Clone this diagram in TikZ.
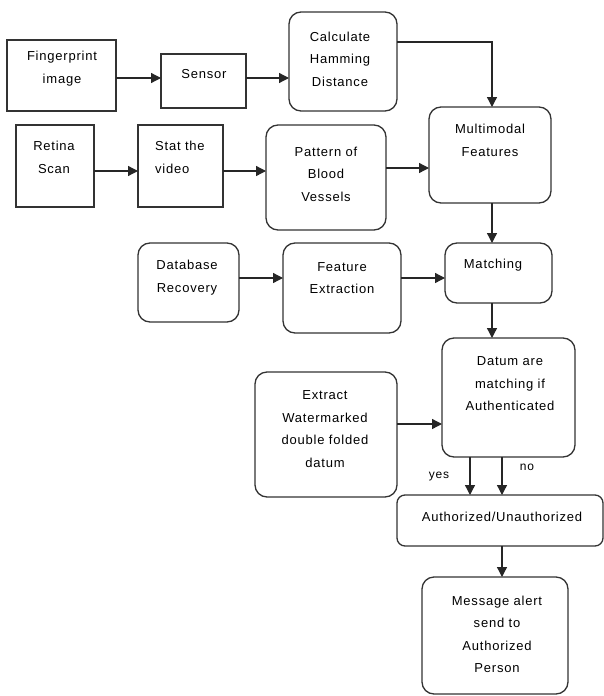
\documentclass[tikz,border=0pt]{standalone}
\usepackage{fontspec}
\setmainfont{Liberation Sans}[LetterSpace=6]
\usetikzlibrary{arrows.meta}
\begin{document}
\begin{tikzpicture}[x=1pt,y=-1pt,
  sq/.style={draw=black!80, line width=1.3pt, inner sep=0pt, outer sep=0pt},
  rd/.style={sq, rounded corners=12pt},
  txt/.style={align=center, inner sep=0pt, font=\fontsize{13}{22.5}\selectfont},
  arr/.style={draw=black!85, line width=1.3pt, -{Triangle[length=10pt,width=10pt]}},
  lab/.style={inner sep=0pt, font=\fontsize{12}{13}\selectfont}]
\useasboundingbox (0,0) rectangle (604,696);
% boxes
\node[sq, minimum width=109, minimum height=71] (fp) at (61.5,75.5) {};
\node[sq, minimum width=85, minimum height=54] (sensor) at (203.5,81) {};
\node[rd, minimum width=108, minimum height=99] (calc) at (343,61.5) {};
\node[sq, minimum width=78, minimum height=82] (retina) at (55,166) {};
\node[sq, minimum width=85, minimum height=82] (stat) at (180.5,166) {};
\node[rd, minimum width=120, minimum height=105] (pattern) at (326,177.5) {};
\node[rd, minimum width=122, minimum height=96] (multi) at (490,155) {};
\node[rd, minimum width=101, minimum height=79] (db) at (188.5,282.5) {};
\node[rd, minimum width=118, minimum height=90] (fe) at (342,288) {};
\node[rd, minimum width=107, minimum height=60] (match) at (498.5,273) {};
\node[rd, minimum width=133, minimum height=119] (datum) at (508.5,397.5) {};
\node[rd, minimum width=142, minimum height=125] (extract) at (326,434.5) {};
\node[rd, rounded corners=8pt, minimum width=206, minimum height=51] (auth) at (500,520.5) {};
\node[rd, minimum width=146, minimum height=117] (msg) at (495,635.5) {};
% texts
\node[txt] (tfp) at (62,68.5) {Fingerprint\\image};
\node[txt] (tsensor) at (204,74) {Sensor};
\node[txt] (tcalc) at (340,59) {Calculate\\Hamming\\Distance};
\node[txt] (tretina) at (54,157.5) {Retina\\Scan};
\node[txt, align=left, anchor=west] (tstat) at (155,157.5) {Stat the\\video};
\node[txt] (tpattern) at (326,174) {Pattern of\\Blood\\Vessels};
\node[txt] (tmulti) at (490,140.5) {Multimodal\\Features};
\node[txt] (tdb) at (187,277.5) {Database\\Recovery};
\node[txt] (tfe) at (342,278) {Feature\\Extraction};
\node[txt] (tmatch) at (493,265) {Matching};
\node[txt] (tdatum) at (510,384) {Datum are\\matching if\\Authenticated};
\node[txt] (textract) at (325,429) {Extract\\Watermarked\\double folded\\datum};
\node[txt] (tauth) at (502,517) {Authorized/Unauthorized};
\node[txt] (tmsg) at (497,634.5) {Message alert\\send to\\Authorized\\Person};
% connectors
\draw[arr] (fp.east |- 0,78) -- (sensor.west |- 0,78);
\draw[arr] (sensor.east |- 0,78) -- (calc.west |- 0,78);
\draw[arr] (calc.east |- 0,42) -| (multi.north -| 492,0);
\draw[arr] (retina.east |- 0,171) -- (stat.west |- 0,171);
\draw[arr] (stat.east |- 0,171) -- (pattern.west |- 0,171);
\draw[arr] (pattern.east |- 0,168) -- (multi.west |- 0,168);
\draw[arr] (multi.south -| 492,0) -- (match.north -| 492,0);
\draw[arr] (db.east |- 0,278) -- (fe.west |- 0,278);
\draw[arr] (fe.east |- 0,278) -- (match.west |- 0,278);
\draw[arr] (match.south -| 492,0) -- (datum.north -| 492,0);
\draw[arr] (extract.east |- 0,424) -- (datum.west |- 0,424);
\draw[arr] (datum.south -| 470,0) -- (auth.north -| 470,0);
\draw[arr] (datum.south -| 502,0) -- (auth.north -| 502,0);
\draw[arr] (auth.south -| 502,0) -- (msg.north -| 502,0);
% labels
\node[lab] (yes) at (439,477) {yes};
\node[lab] (no) at (527,467) {no};
\end{tikzpicture}
\end{document}
